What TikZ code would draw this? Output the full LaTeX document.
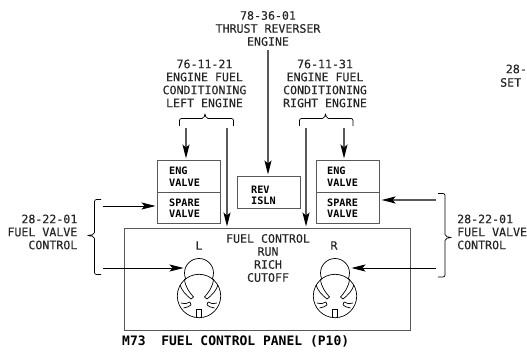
\documentclass[tikz,border=0pt]{standalone}
\usepackage{fontspec}
\setmonofont{DejaVu Sans Mono}
\newfontfamily\lblfont[FakeBold=0.25]{DejaVu Sans Mono}
\usetikzlibrary{arrows.meta}
\definecolor{lineg}{gray}{0.35}
\tikzset{
  lbl/.style={font=\lblfont\fontsize{11.6}{13}\selectfont,inner sep=0pt,align=center,text=black!85},
  blbl/.style={font=\ttfamily\bfseries\fontsize{10.2}{12}\selectfont,inner sep=0pt,align=left,anchor=west},
  box/.style={draw=lineg,line width=1.1pt,inner sep=0pt,anchor=north west,fill=white},
  heavy/.style={draw=lineg,line width=1.4pt},
  thin/.style={draw=black,line width=0.8pt},
  arr/.style={-{Stealth[length=14pt,width=7pt,inset=3pt,black]},shorten >=1.5pt},
  brk/.style={draw=black,line width=0.7pt,rounded corners=2pt},
  knobline/.style={draw=black,line width=0.7pt},
  pics/knob/.style={code={
    \draw[knobline] (0,-23) circle (14.5);
    \draw[knobline,fill=white] (0,0) circle (21.7);
    \foreach \s in {1,-1}{
      \draw[knobline] (\s*-19,-11) .. controls (\s*-17,-5) and (\s*-13,-1) .. (\s*-8,3);
      \draw[knobline] (\s*-14.5,-17) .. controls (\s*-14,-9) and (\s*-9,-3) .. (\s*-5.5,1);
      \draw[knobline] (\s*-8,3) -- (\s*-5.5,1);
      \draw[knobline] (\s*-18,7) .. controls (\s*-14,8) and (\s*-11,7.5) .. (\s*-9,6);
      \draw[knobline] (\s*-15.5,12) .. controls (\s*-12,11.5) and (\s*-10,10.5) .. (\s*-8,9);
      \draw[knobline] (\s*-9,6) -- (\s*-8,9);
    }
    \draw[knobline] (-2.6,21.5) -- (-2.6,13) -- (2.6,13) -- (2.6,21.5);
  }}
}
\begin{document}
\begin{tikzpicture}[x=1pt,y=-1pt]
\useasboundingbox (0,0) rectangle (527,352);
% labels
\node[lbl] (trt) at (268,28.5) {78-36-01\\THRUST REVERSER\\ENGINE};
\node[lbl] (lft) at (204.5,83.5) {76-11-21\\ENGINE FUEL\\CONDITIONING\\LEFT ENGINE};
\node[lbl] (rgt) at (325,83.5) {76-11-31\\ENGINE FUEL\\CONDITIONING\\RIGHT ENGINE};
\node[lbl,align=right,anchor=east] (fl) at (77.5,232) {28-22-01\\FUEL VALVE\\CONTROL};
\node[lbl,align=left,anchor=west] (fr) at (457,232) {28-22-01\\FUEL VALVE\\CONTROL};
\node[lbl,anchor=east] (cuta) at (527,69) {28-};
\node[lbl,anchor=west] (cutb) at (500,82.5) {SET};
% panel
\node[box,minimum width=286pt,minimum height=102pt] (panel) at (124,228) {};
\node[lbl] (pl) at (199,245.5) {L};
\node[lbl] (pr) at (334,245.5) {R};
\node[lbl] (pc) at (268,258) {FUEL CONTROL\\RUN\\RICH\\CUTOFF};
\pic at (199,296) {knob};
\pic at (335,296) {knob};
\node[font=\ttfamily\bfseries\fontsize{13}{15}\selectfont,inner sep=0pt,anchor=west] (ttl) at (122,341) {M73\ \ FUEL CONTROL PANEL (P10)};
% boxes
\node[box,minimum width=63pt,minimum height=32pt] (engl) at (157,160) {};
\node[box,minimum width=63pt,minimum height=31pt] (sparel) at (157,192) {};
\node[box,minimum width=63pt,minimum height=32pt] (rev) at (237,176) {};
\node[box,minimum width=63pt,minimum height=32pt] (engr) at (316,160) {};
\node[box,minimum width=63pt,minimum height=31pt] (sparer) at (316,192) {};
\node[blbl] (t1) at (169,176.5) {ENG\\[-0.5pt]VALVE};
\node[blbl] (t2) at (169,208) {SPARE\\[-0.5pt]VALVE};
\node[blbl] (t3) at (251,195.5) {REV\\[-0.5pt]ISLN};
\node[blbl] (t4) at (327,176.5) {ENG\\[-0.5pt]VALVE};
\node[blbl] (t5) at (327,208) {SPARE\\[-0.5pt]VALVE};
% free ends
\coordinate (a1) at (186,128);
\coordinate (a2) at (227,128);
\coordinate (a3) at (268,50);
\coordinate (a4) at (306,128);
\coordinate (a5) at (344,128);
\coordinate (b1) at (103,206);
\coordinate (b2) at (103,268);
\coordinate (b3) at (436,200);
\coordinate (b4) at (436,268);
\coordinate (kl) at (185,268);
\coordinate (kr) at (350,268);
% connectors
\draw[heavy,arr] (a1) -- (a1 |- engl.north);
\draw[heavy,arr] (a2) -- (a2 |- panel.north);
\draw[heavy,arr] (a3) -- (a3 |- rev.north);
\draw[heavy,arr] (a4) -- (a4 |- panel.north);
\draw[heavy,arr] (a5) -- (a5 |- engr.north);
\draw[thin,arr] (b1) -- (sparel.west |- b1);
\draw[thin,arr] (b2) -- (kl);
\draw[heavy,arr] (b3) -- (sparer.east |- b3);
\draw[thin,arr] (b4) -- (kr);
% brackets
\draw[brk] (179.5,126) -- (179.5,118.5) -- (204,118.5) -- (205,113) -- (206,118.5) -- (233.5,118.5) -- (233.5,126);
\draw[brk] (299.5,126) -- (299.5,118.5) -- (324.5,118.5) -- (325.5,113) -- (326.5,118.5) -- (353,118.5) -- (353,126);
\draw[brk] (101,199.5) -- (94.5,199.5) -- (94.5,234.5) -- (87,235.5) -- (94.5,236.5) -- (94.5,274.5) -- (101,274.5);
\draw[brk] (438,193.5) -- (445,193.5) -- (445,236.5) -- (452,237.5) -- (445,238.5) -- (445,277) -- (438,277);
\end{tikzpicture}
\end{document}
